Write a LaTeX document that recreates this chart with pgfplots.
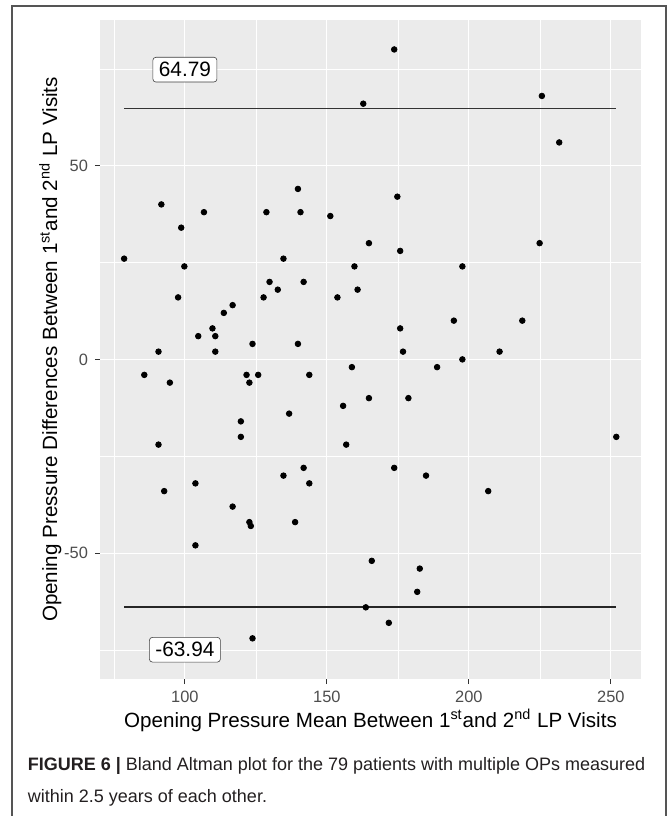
\documentclass[border=0pt]{standalone}
\usepackage{pgfplots}
\pgfplotsset{compat=1.18}
\usepackage{fontspec}
\setmainfont{Liberation Sans}
\definecolor{ggbg}{HTML}{EBEBEB}
\definecolor{ggtick}{HTML}{333333}
\definecolor{ggtext}{HTML}{4D4D4D}
\definecolor{framecol}{HTML}{555555}
\definecolor{captext}{HTML}{231F20}
\pgfplotstableread{
x y
162.8 66
139.8 44
91.7 40
106.7 38
128.7 38
140.7 38
151.2 37
98.7 34
164.8 30
78.6 26
134.7 26
99.8 24
159.7 24
129.8 20
141.8 20
132.7 18
160.8 18
97.6 16
127.7 16
153.7 16
116.8 14
113.7 12
109.7 8
104.7 6
110.7 6
123.8 4
139.8 4
90.7 2
110.7 2
158.8 -2
85.7 -4
121.7 -4
125.8 -4
143.8 -4
231.8 56
174.8 42
175.8 28
224.9 30
197.7 24
194.7 10
218.8 10
175.8 8
176.8 2
210.8 2
197.7 0
188.8 -2
94.7 -6
122.7 -6
136.7 -14
164.8 -10
155.7 -12
119.7 -16
119.7 -20
90.7 -22
156.8 -22
141.8 -28
134.7 -30
143.8 -32
103.7 -32
92.7 -34
116.8 -38
122.7 -42
123.2 -43
138.8 -42
103.7 -48
165.8 -52
163.7 -64
123.8 -72
178.7 -10
251.9 -20
173.7 -28
184.9 -30
206.8 -34
182.7 -54
181.8 -60
171.8 -68
173.7 80
225.7 68
}\pts
\begin{document}
\begin{tikzpicture}
\useasboundingbox (0,0) rectangle (333.5pt,-408pt);
\draw[framecol, line width=0.75pt] (6pt,-408pt) -- (6pt,-3pt) -- (333pt,-3pt) -- (333pt,-408pt);
\begin{axis}[
  at={(50pt,-10pt)}, anchor=north west,
  width=270.5pt, height=329.5pt, scale only axis,
  xmin=70.1, xmax=260.6, ymin=-82.5, ymax=87.6,
  axis background/.style={fill=ggbg},
  axis line style={draw=none},
  xtick={100,150,200,250}, ytick={-50,0,50},
  xticklabels={100,150,200,250}, yticklabels={-50,0,50},
  minor xtick={75,125,175,225}, minor ytick={-75,-25,25,75},
  xtick pos=bottom, ytick pos=left,
  grid=both,
  major grid style={white, line width=0.55pt},
  minor grid style={white, line width=0.28pt},
  tick align=outside, major tick length=2.5pt, minor tick length=0pt,
  tick style={ggtick, line width=0.55pt},
  ticklabel style={font=\fontsize{8.2}{9}\selectfont, text=ggtext},
  clip=false,
]
\addplot[black!80, line width=0.8pt] coordinates {(78.6,64.79) (251.9,64.79)};
\addplot[black!85, line width=0.7pt] coordinates {(78.6,-63.94) (251.9,-63.94)};
\addplot[only marks, mark=*, mark size=1.4pt, black] table[x=x, y=y] {\pts};
\node[draw=black!75, fill=white, rounded corners=1.5pt, line width=0.3pt,
  inner xsep=3pt, inner ysep=2.5pt, font=\fontsize{10.4}{12}\selectfont]
  at (axis cs:100,74.79) {64.79};
\node[draw=black!75, fill=white, rounded corners=1.5pt, line width=0.3pt,
  inner xsep=3pt, inner ysep=2.5pt, font=\fontsize{10.4}{12}\selectfont]
  at (axis cs:100,-74.94) {-63.94};
\end{axis}
\node[anchor=base, font=\fontsize{10.3}{12}\selectfont] at (185.25pt,-363.5pt)
  {Opening Pressure Mean Between 1\textsuperscript{st}and 2\textsuperscript{nd} LP Visits};
\node[anchor=base, rotate=90, font=\fontsize{10.3}{12}\selectfont] at (28.5pt,-174.75pt)
  {Opening Pressure Differences Between 1\textsuperscript{st}and 2\textsuperscript{nd} LP Visits};
\node[anchor=base west, inner sep=0pt, text=captext, font=\fontsize{9}{11}\selectfont] at (13.75pt,-385pt)
  {\textbf{FIGURE 6 |} Bland Altman plot for the 79 patients with multiple OPs measured};
\node[anchor=base west, inner sep=0pt, text=captext, font=\fontsize{9}{11}\selectfont] at (13.75pt,-401pt)
  {within 2.5 years of each other.};
\end{tikzpicture}
\end{document}
